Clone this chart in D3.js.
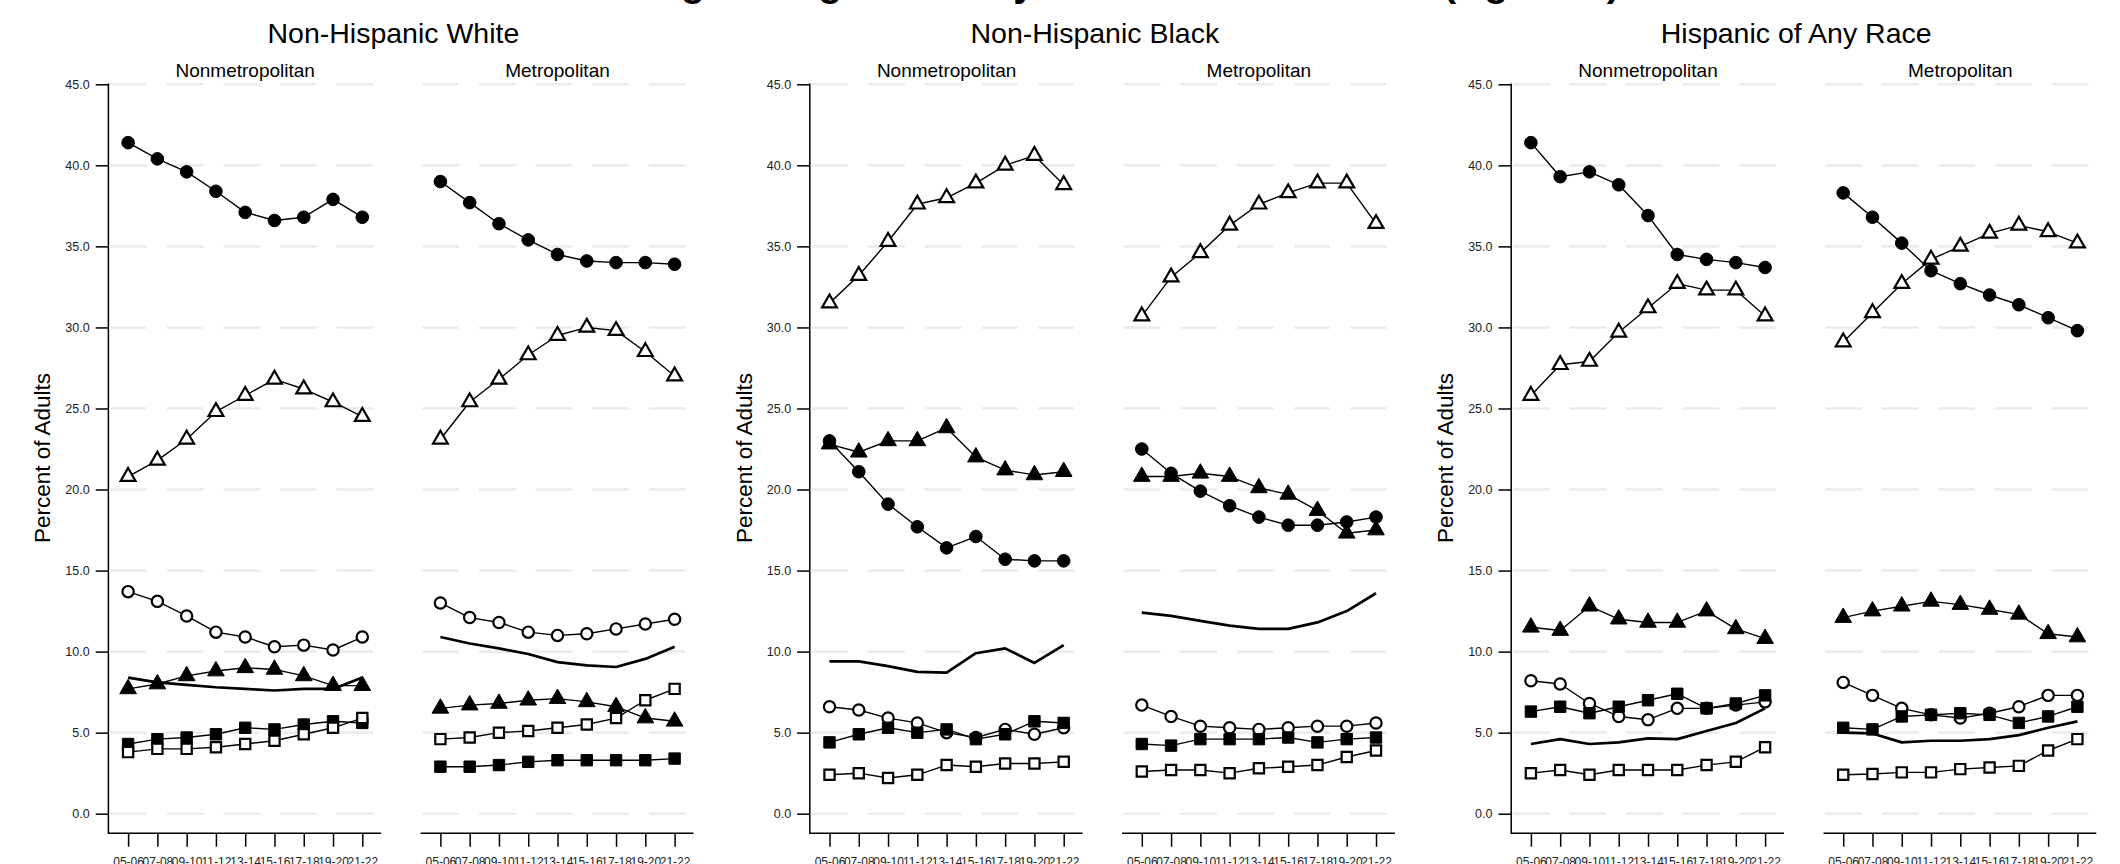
<!DOCTYPE html>
<html>
<head>
<meta charset="utf-8">
<script src="https://cdn.jsdelivr.net/npm/d3@7"></script>
<style>
  body { margin: 0; background: #fff; }
  svg { display: block; font-family: "Liberation Sans", Arial, sans-serif; }
</style>
</head>
<body>
<div id="chart"></div>
<script>
// periods on the x axis
var periods = ["05-06", "07-08", "09-10", "11-12", "13-14", "15-16", "17-18", "19-20", "21-22"];
var yTicks = [0, 5, 10, 15, 20, 25, 30, 35, 40, 45];
var groups = ["Non-Hispanic White", "Non-Hispanic Black", "Hispanic of Any Race"];
var areas = ["Nonmetropolitan", "Metropolitan"];
// marker of each series, same order as the value rows below
var markers = ["filledCircle", "openTriangle", "openCircle", "filledTriangle", "line", "filledSquare", "openSquare"];

// values, percent of adults, one row per series
var whiteNonmetro = [
  [41.4, 40.4, 39.6, 38.4, 37.1, 36.6, 36.8, 37.9, 36.8],
  [20.8, 21.8, 23.1, 24.8, 25.8, 26.8, 26.2, 25.4, 24.5],
  [13.7, 13.1, 12.2, 11.2, 10.9, 10.3, 10.4, 10.1, 10.9],
  [7.7, 8.0, 8.5, 8.8, 9.0, 8.9, 8.5, 7.9, 7.9],
  [8.4, 8.1, 7.95, 7.8, 7.7, 7.6, 7.7, 7.7, 8.4],
  [4.3, 4.6, 4.7, 4.9, 5.3, 5.2, 5.5, 5.7, 5.6],
  [3.8, 4.0, 4.0, 4.1, 4.3, 4.5, 4.9, 5.3, 5.9]
];
var whiteMetro = [
  [39.0, 37.7, 36.4, 35.4, 34.5, 34.1, 34.0, 34.0, 33.9],
  [23.1, 25.4, 26.8, 28.3, 29.5, 30.0, 29.8, 28.5, 27.0],
  [13.0, 12.1, 11.8, 11.2, 11.0, 11.1, 11.4, 11.7, 12.0],
  [6.5, 6.7, 6.8, 7.0, 7.1, 6.9, 6.6, 5.9, 5.7],
  [10.9, 10.5, 10.2, 9.85, 9.35, 9.15, 9.05, 9.55, 10.3],
  [2.9, 2.9, 3.0, 3.2, 3.3, 3.3, 3.3, 3.3, 3.4],
  [4.6, 4.7, 5.0, 5.1, 5.3, 5.5, 5.9, 7.0, 7.7]
];
var blackNonmetro = [
  [23.0, 21.1, 19.1, 17.7, 16.4, 17.1, 15.7, 15.6, 15.6],
  [31.5, 33.2, 35.3, 37.6, 38.0, 38.9, 40.0, 40.6, 38.8],
  [6.6, 6.4, 5.9, 5.6, 5.0, 4.7, 5.2, 4.9, 5.3],
  [22.8, 22.3, 23.0, 23.0, 23.8, 22.0, 21.2, 20.9, 21.1],
  [9.4, 9.4, 9.1, 8.75, 8.7, 9.9, 10.2, 9.3, 10.4],
  [4.4, 4.9, 5.3, 5.0, 5.2, 4.6, 4.9, 5.7, 5.6],
  [2.4, 2.5, 2.2, 2.4, 3.0, 2.9, 3.1, 3.1, 3.2]
];
var blackMetro = [
  [22.5, 21.0, 19.9, 19.0, 18.3, 17.8, 17.8, 18.0, 18.3],
  [30.7, 33.1, 34.6, 36.3, 37.6, 38.3, 38.9, 38.9, 36.4],
  [6.7, 6.0, 5.4, 5.3, 5.2, 5.3, 5.4, 5.4, 5.6],
  [20.8, 20.8, 21.0, 20.8, 20.1, 19.7, 18.7, 17.3, 17.5],
  [12.4, 12.2, 11.9, 11.6, 11.4, 11.4, 11.8, 12.5, 13.6],
  [4.3, 4.2, 4.6, 4.6, 4.6, 4.7, 4.4, 4.6, 4.7],
  [2.6, 2.7, 2.7, 2.5, 2.8, 2.9, 3.0, 3.5, 3.9]
];
var hispNonmetro = [
  [41.4, 39.3, 39.6, 38.8, 36.9, 34.5, 34.2, 34.0, 33.7],
  [25.8, 27.7, 27.9, 29.7, 31.2, 32.7, 32.3, 32.3, 30.7],
  [8.2, 8.0, 6.8, 6.0, 5.8, 6.5, 6.5, 6.7, 6.9],
  [11.5, 11.3, 12.8, 12.0, 11.8, 11.8, 12.5, 11.4, 10.8],
  [4.3, 4.6, 4.3, 4.4, 4.65, 4.6, 5.1, 5.6, 6.5],
  [6.3, 6.6, 6.2, 6.6, 7.0, 7.4, 6.5, 6.8, 7.3],
  [2.5, 2.7, 2.4, 2.7, 2.7, 2.7, 3.0, 3.2, 4.1]
];
var hispMetro = [
  [38.3, 36.8, 35.2, 33.5, 32.7, 32.0, 31.4, 30.6, 29.8],
  [29.1, 30.9, 32.7, 34.2, 35.0, 35.8, 36.3, 35.9, 35.2],
  [8.1, 7.3, 6.5, 6.1, 5.9, 6.2, 6.6, 7.3, 7.3],
  [12.1, 12.5, 12.8, 13.1, 12.9, 12.6, 12.3, 11.1, 10.9],
  [5.0, 4.95, 4.4, 4.5, 4.5, 4.6, 4.85, 5.3, 5.7],
  [5.3, 5.2, 6.0, 6.1, 6.2, 6.1, 5.6, 6.0, 6.6],
  [2.4, 2.45, 2.55, 2.55, 2.75, 2.85, 2.95, 3.9, 4.6]
];
var panelValues = [[whiteNonmetro, whiteMetro], [blackNonmetro, blackMetro], [hispNonmetro, hispMetro]];

var width = 2120, height = 864;
var svg = d3.select("#chart").append("svg")
  .attr("width", width)
  .attr("height", height);

var y = d3.scaleLinear().domain([0, 45]).range([813.7, 84.3]);
var axisY = 833.3;

var symbolFor = {
  filledCircle: d3.symbol().type(d3.symbolCircle).size(125),
  openCircle: d3.symbol().type(d3.symbolCircle).size(100),
  filledTriangle: d3.symbol().type(d3.symbolTriangle).size(120),
  openTriangle: d3.symbol().type(d3.symbolTriangle).size(95),
  filledSquare: d3.symbol().type(d3.symbolSquare).size(130),
  openSquare: d3.symbol().type(d3.symbolSquare).size(105)
};

// partly hidden main title at the top edge
svg.append("text")
  .attr("x", 590)
  .attr("y", -4.5)
  .attr("font-size", 39)
  .attr("font-weight", "bold")
  .attr("fill", "#000")
  .text("Living Arrangements by Race and Metro Area (Age 18+)");

groups.forEach(function(groupName, g) {
  var left = 108.4 + g * 701.4;
  var grp = svg.append("g");

  grp.append("text")
    .attr("x", left + 285)
    .attr("y", 42.5)
    .attr("text-anchor", "middle")
    .attr("font-size", 28.5)
    .attr("fill", "#000")
    .text(groupName);

  grp.append("text")
    .attr("transform", "translate(" + (left - 58) + "," + 458 + ") rotate(-90)")
    .attr("text-anchor", "middle")
    .attr("font-size", 22.5)
    .attr("fill", "#000")
    .text("Percent of Adults");

  areas.forEach(function(areaName, p) {
    var panelLeft = left + (p === 0 ? 0 : 312.3);
    var x = d3.scalePoint()
      .domain(periods)
      .range([panelLeft + 19.7, panelLeft + 253.9]);

    // dashed grid
    grp.append("g").selectAll("line")
      .data(yTicks)
      .enter().append("line")
      .attr("x1", panelLeft + 1.8)
      .attr("x2", panelLeft + 266)
      .attr("y1", function(d) { return y(d); })
      .attr("y2", function(d) { return y(d); })
      .attr("stroke", "#ececec")
      .attr("stroke-width", 2.6)
      .attr("stroke-dasharray", "36.5,20.1");

    grp.append("text")
      .attr("x", (x.range()[0] + x.range()[1]) / 2)
      .attr("y", 77)
      .attr("text-anchor", "middle")
      .attr("font-size", 19)
      .attr("fill", "#000")
      .text(areaName);

    // x axis
    var xAxis = d3.axisBottom(x).tickSize(13.4).tickSizeOuter(0).tickPadding(11);
    var xg = grp.append("g")
      .attr("transform", "translate(0," + axisY + ")")
      .call(xAxis);
    xg.select(".domain").remove();
    xg.selectAll(".tick line").attr("stroke", "#000").attr("stroke-width", 1.5);
    xg.selectAll(".tick text")
      .attr("font-size", 12)
      .attr("font-family", "Liberation Sans, Arial, sans-serif")
      .attr("fill", "#222");
    grp.append("line")
      .attr("x1", panelLeft).attr("x2", panelLeft + 272.8)
      .attr("y1", axisY).attr("y2", axisY)
      .attr("stroke", "#000").attr("stroke-width", 1.5);

    if (p === 0) {
      var yAxis = d3.axisLeft(y).tickValues(yTicks).tickFormat(d3.format(".1f"))
        .tickSize(12.7).tickSizeOuter(0).tickPadding(6);
      var yg = grp.append("g")
        .attr("transform", "translate(" + left + ",0)")
        .call(yAxis);
      yg.select(".domain").remove();
      yg.selectAll(".tick line").attr("stroke", "#000").attr("stroke-width", 1.5);
      yg.selectAll(".tick text")
        .attr("font-size", 12.5)
        .attr("font-family", "Liberation Sans, Arial, sans-serif")
        .attr("fill", "#222");
      grp.append("line")
        .attr("x1", left).attr("x2", left)
        .attr("y1", y(45) - 0.75).attr("y2", axisY + 0.75)
        .attr("stroke", "#000").attr("stroke-width", 1.5);
    }

    var rows = panelValues[g][p];
    var line = d3.line()
      .x(function(d, i) { return x(periods[i]); })
      .y(function(d) { return y(d); });

    rows.forEach(function(vals, s) {
      var kind = markers[s];
      grp.append("path")
        .attr("d", line(vals))
        .attr("fill", "none")
        .attr("stroke", "#000")
        .attr("stroke-width", kind === "line" ? 2.7 : 1.4)
        .attr("stroke-linejoin", "round");
    });

    rows.forEach(function(vals, s) {
      var kind = markers[s];
      if (kind === "line") return;
      var open = kind.indexOf("open") === 0;
      grp.append("g").selectAll("path")
        .data(vals)
        .enter().append("path")
        .attr("transform", function(d, i) { return "translate(" + x(periods[i]) + "," + y(d) + ")"; })
        .attr("d", symbolFor[kind])
        .attr("fill", open ? "#fff" : "#000")
        .attr("stroke", "#000")
        .attr("stroke-width", open ? 2.2 : 1);
    });
  });
});
</script>
</body>
</html>
